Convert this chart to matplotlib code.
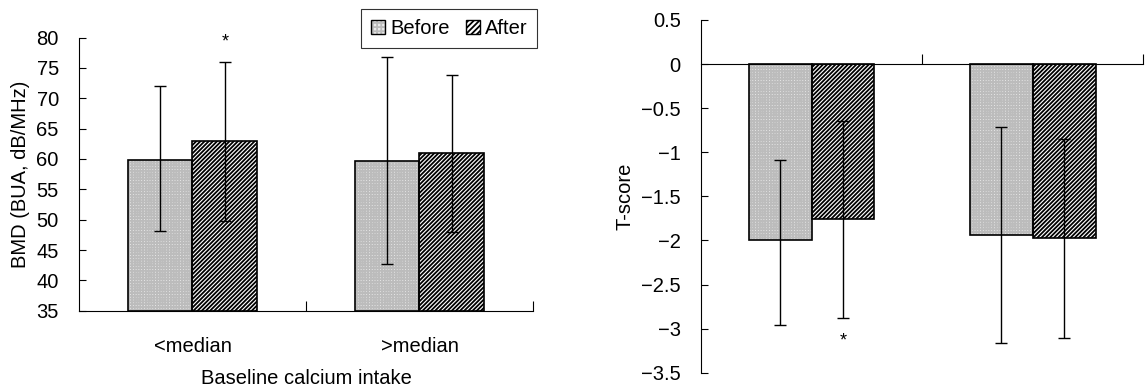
import matplotlib
matplotlib.use("Agg")
import matplotlib.pyplot as plt
from matplotlib.patches import Patch
import numpy as np

plt.rcParams['font.family'] = ['Liberation Sans', 'DejaVu Sans']
plt.rcParams['hatch.linewidth'] = 1.3

# data
groups = ['<median', '>median']
bmd_before = [59.9, 59.7]
bmd_before_lo = [48.1, 42.7]
bmd_before_hi = [72.0, 76.8]
bmd_after = [62.9, 60.9]
bmd_after_lo = [49.7, 47.9]
bmd_after_hi = [76.0, 73.8]

t_before = [-2.0, -1.94]
t_before_lo = [-2.96, -3.165]
t_before_hi = [-1.09, -0.71]
t_after = [-1.76, -1.975]
t_after_lo = [-2.88, -3.105]
t_after_hi = [-0.65, -0.85]

w = 0.285
x = np.array([0.5, 1.5])
grey_face = '#ececec'
grey_hatch = '#bcbcbc'
after_hatch = '////////'
fs = 14.5


def draw_bars(ax, before, blo, bhi, after, alo, ahi, bottom=0):
    xb = x - w / 2
    xa = x + w / 2
    hb = np.array(before) - bottom
    ha = np.array(after) - bottom
    # before: grey stippled fill
    ax.bar(xb, hb, w, bottom=bottom, color=grey_face, hatch='++++++',
           edgecolor=grey_hatch, linewidth=0, zorder=2)
    ax.bar(xb, hb, w, bottom=bottom, fill=False, edgecolor='black', linewidth=1.2, zorder=3)
    # after: dense black diagonal hatch
    ax.bar(xa, ha, w, bottom=bottom, color='white', hatch=after_hatch,
           edgecolor='black', linewidth=1.2, zorder=2)
    eb = [np.array(before) - np.array(blo), np.array(bhi) - np.array(before)]
    ea = [np.array(after) - np.array(alo), np.array(ahi) - np.array(after)]
    ax.errorbar(xb, before, yerr=eb, fmt='none', ecolor='black', elinewidth=1.0,
                capsize=4, capthick=1.0, zorder=4)
    ax.errorbar(xa, after, yerr=ea, fmt='none', ecolor='black', elinewidth=1.0,
                capsize=4, capthick=1.0, zorder=4)


fig = plt.figure(figsize=(11.46, 3.9), dpi=100)

# left panel
ax1 = fig.add_axes([0.0689, 0.2033, 0.3962, 0.7005])
draw_bars(ax1, bmd_before, bmd_before_lo, bmd_before_hi,
          bmd_after, bmd_after_lo, bmd_after_hi, bottom=35)
ax1.set_xlim(0, 2)
ax1.set_ylim(35, 80)
ax1.set_yticks(np.arange(35, 81, 5))
ax1.spines['top'].set_visible(False)
ax1.spines['right'].set_visible(False)
ax1.set_xticks([1, 2])
ax1.set_xticklabels(['', ''])
ax1.set_xticks(x, minor=True)
ax1.set_xticklabels(groups, minor=True)
ax1.tick_params(axis='x', which='major', direction='in', length=7)
ax1.tick_params(axis='x', which='minor', length=0, pad=19, labelsize=fs)
ax1.tick_params(axis='y', direction='in', length=5, pad=14.5, labelsize=fs)
ax1.set_xlabel('Baseline calcium intake', fontsize=fs, labelpad=9)
ax1.set_ylabel('BMD (BUA, dB/MHz)', fontsize=fs, labelpad=5)
ax1.text(x[0] + w / 2, 79.3, '*', ha='center', va='center', fontsize=13)

h_before = (Patch(facecolor=grey_face, hatch='++++', edgecolor=grey_hatch, linewidth=0),
            Patch(fill=False, edgecolor='black', linewidth=1.0))
h_after = Patch(facecolor='white', hatch='//////', edgecolor='black', linewidth=1.0)
leg = fig.legend([h_before, h_after], ['Before', 'After'], ncol=2,
                 loc='upper right', bbox_to_anchor=(0.469, 0.977),
                 fontsize=fs, frameon=True, fancybox=False,
                 handlelength=0.7, handleheight=0.7, handletextpad=0.25,
                 columnspacing=0.8, borderpad=0.5, borderaxespad=0)
leg.get_frame().set_edgecolor('black')
leg.get_frame().set_linewidth(0.8)

# right panel
ax2 = fig.add_axes([0.6117, 0.0444, 0.3857, 0.9044])
draw_bars(ax2, t_before, t_before_lo, t_before_hi,
          t_after, t_after_lo, t_after_hi, bottom=0)
ax2.set_xlim(0, 2)
ax2.set_ylim(-3.5, 0.5)
ax2.set_yticks(np.arange(-3.5, 0.51, 0.5))
ax2.set_yticklabels([t.replace('-', '\u2212') for t in
                     ['-3.5', '-3', '-2.5', '-2', '-1.5', '-1', '-0.5', '0', '0.5']])
ax2.spines['top'].set_visible(False)
ax2.spines['right'].set_visible(False)
ax2.spines['bottom'].set_position(('data', 0))
ax2.set_xticks([1, 2])
ax2.set_xticklabels(['', ''])
ax2.tick_params(axis='x', direction='in', length=7)
ax2.tick_params(axis='y', direction='in', length=5, pad=14.5, labelsize=fs)
ax2.set_ylabel('T-score', fontsize=fs, labelpad=5)
ax2.text(x[0] + w / 2, -3.135, '*', ha='center', va='center', fontsize=13)

fig.savefig('out.png', dpi=100)
